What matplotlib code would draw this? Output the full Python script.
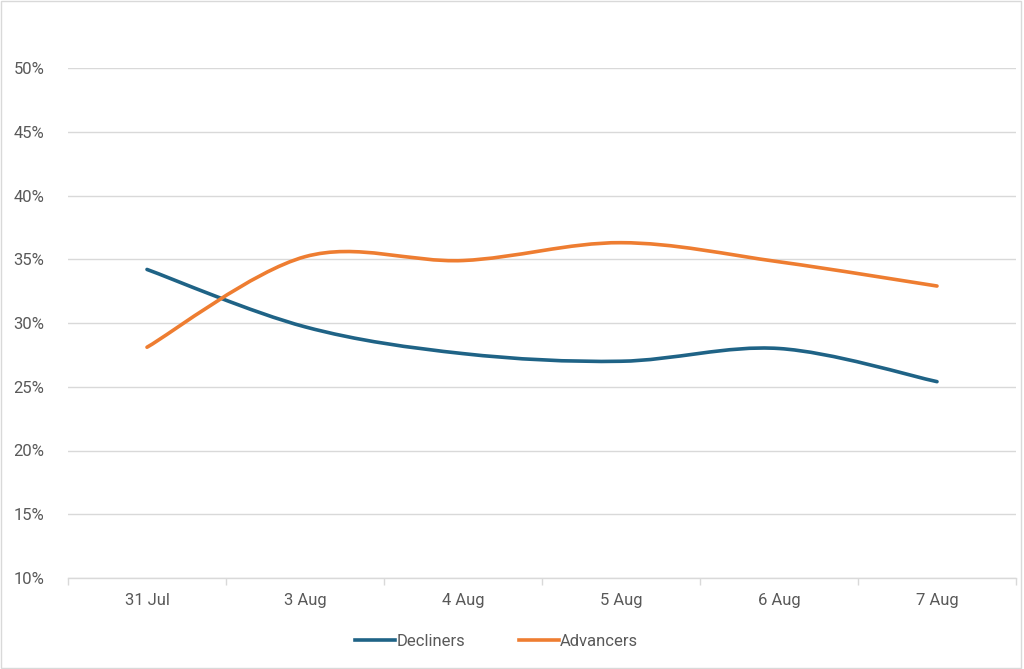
import matplotlib.pyplot as plt
import numpy as np
from matplotlib.path import Path
from matplotlib.patches import PathPatch, Rectangle
from matplotlib.lines import Line2D
from matplotlib.ticker import FuncFormatter, FixedLocator

# === DATA ===
DATES = ["31 Jul", "3 Aug", "4 Aug", "5 Aug", "6 Aug", "7 Aug"]
DECLINERS = [34.2, 29.7, 27.6, 27.0, 28.0, 25.4]
ADVANCERS = [28.1, 35.2, 34.9, 36.3, 34.8, 32.9]

# === STYLE ===
BLUE = "#1F6386"
ORANGE = "#EE7D31"
GRID = "#D9D9D9"
TEXT = "#595959"
plt.rcParams['font.family'] = ['Roboto', 'DejaVu Sans']


def smooth_path(xs, ys):
    # Excel-like smoothed line: cubic bezier through each point
    pts = np.column_stack([xs, ys]).astype(float)
    n = len(pts)
    verts = [pts[0]]
    codes = [Path.MOVETO]
    for i in range(n - 1):
        p0 = pts[i - 1] if i > 0 else pts[i]
        p1 = pts[i]
        p2 = pts[i + 1]
        p3 = pts[i + 2] if i + 2 < n else pts[i + 1]
        c1 = p1 + (p2 - p0) / 6.0
        c2 = p2 - (p3 - p1) / 6.0
        verts += [c1, c2, p2]
        codes += [Path.CURVE4] * 3
    return Path(verts, codes)


fig = plt.figure(figsize=(10.24, 6.69), dpi=100)
ax = fig.add_axes([68 / 1024, 1 - 578 / 669, 948 / 1024, 510 / 669])

x = np.arange(len(DATES))
for vals, color, name in [(DECLINERS, BLUE, "Decliners"), (ADVANCERS, ORANGE, "Advancers")]:
    patch = PathPatch(smooth_path(x, vals), facecolor="none", edgecolor=color,
                      lw=2.6, capstyle="round", joinstyle="round", zorder=3)
    ax.add_patch(patch)

ax.set_xlim(-0.5, len(DATES) - 0.5)
ax.set_ylim(10, 50)
ax.set_yticks(np.arange(10, 51, 5))
ax.yaxis.set_major_formatter(FuncFormatter(lambda v, p: f"{v:.0f}%"))
ax.set_xticks(x)
ax.set_xticklabels(DATES)
ax.xaxis.set_minor_locator(FixedLocator(np.arange(-0.5, len(DATES), 1.0)))

ax.grid(axis="y", color=GRID, lw=1)
ax.set_axisbelow(True)
for s in ["top", "right", "left"]:
    ax.spines[s].set_visible(False)
ax.spines["bottom"].set_color(GRID)
ax.spines["bottom"].set_linewidth(1)

ax.tick_params(axis="y", length=0, pad=17, labelsize=12, labelcolor=TEXT)
ax.tick_params(axis="x", which="major", length=0, pad=11, labelsize=12, labelcolor=TEXT)
ax.tick_params(axis="x", which="minor", length=5, color=GRID, width=1)

handles = [Line2D([], [], color=BLUE, lw=2.6), Line2D([], [], color=ORANGE, lw=2.6)]
fig.legend(handles, ["Decliners", "Advancers"], loc="center", bbox_to_anchor=(0.485, 1 - 641 / 669),
           ncol=2, frameon=False, fontsize=12, labelcolor=TEXT, handlelength=2.4,
           handletextpad=0.1, columnspacing=3.2)

# chart area border
fig.patches.append(Rectangle((0.001, 0.002), 0.996, 0.996, transform=fig.transFigure,
                             fill=False, edgecolor=GRID, lw=1))

fig.savefig("out.png", dpi=100)
